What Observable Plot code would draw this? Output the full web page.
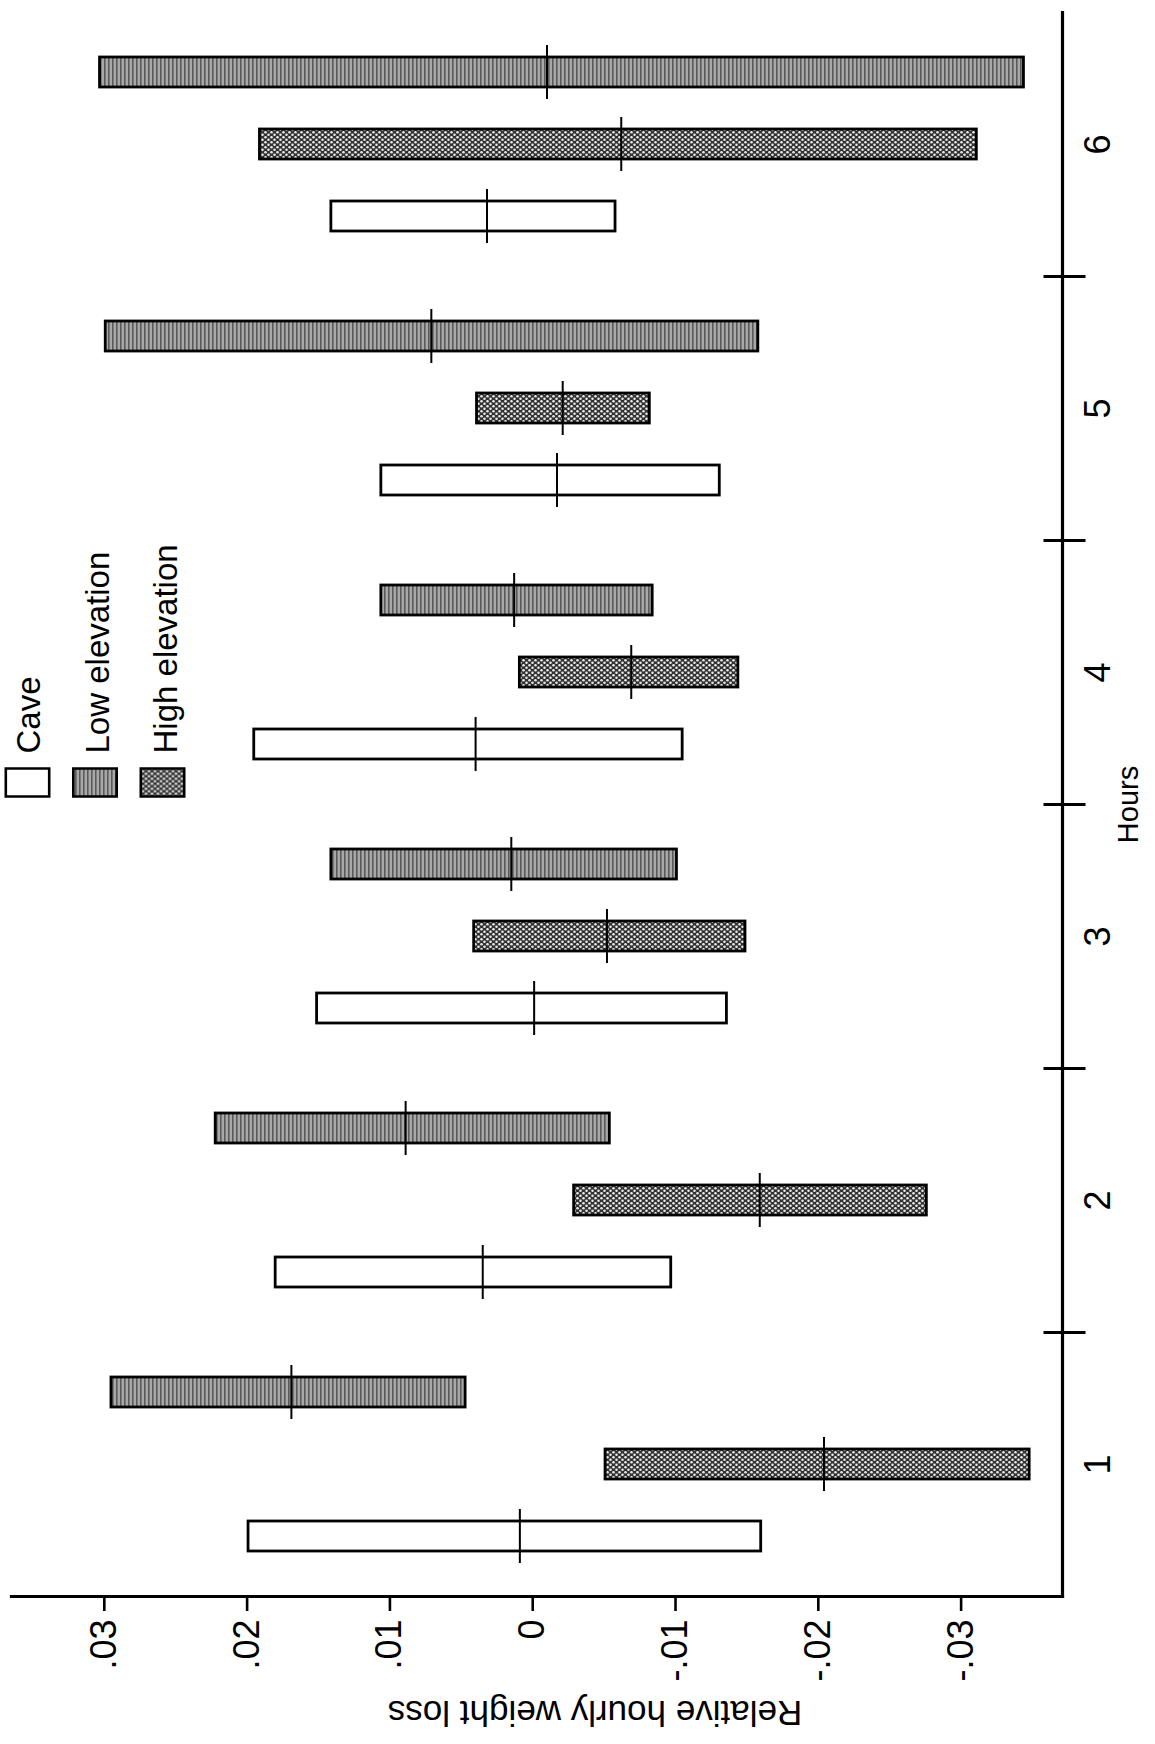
<!DOCTYPE html>
<html>
<head>
<meta charset="utf-8">
<script src="https://cdn.jsdelivr.net/npm/d3@7"></script>
<script src="https://cdn.jsdelivr.net/npm/@observablehq/plot@0.6"></script>
<style>
  html, body { margin: 0; padding: 0; background: white; }
  #chart svg { display: block; }
</style>
</head>
<body>
<div id="chart"></div>
<script>
// ---- data ----
const hours = [1, 2, 3, 4, 5, 6];
const groups = ["Cave", "Low elevation", "High elevation"];

const caveMax  = [0.0199, 0.0180, 0.0151, 0.0195, 0.0106, 0.0141];
const caveMin  = [-0.0160, -0.0097, -0.0136, -0.0105, -0.0131, -0.0058];
const caveMean = [0.0009, 0.0035, -0.0001, 0.0040, -0.0017, 0.0032];

const lowMax  = [0.0295, 0.0222, 0.0141, 0.0106, 0.0299, 0.0303];
const lowMin  = [0.0047, -0.0054, -0.0101, -0.0084, -0.0158, -0.0344];
const lowMean = [0.0169, 0.0089, 0.0015, 0.0013, 0.0071, -0.0010];

const highMax  = [-0.0051, -0.0029, 0.0041, 0.0009, 0.0039, 0.0191];
const highMin  = [-0.0348, -0.0276, -0.0149, -0.0144, -0.0082, -0.0311];
const highMean = [-0.0204, -0.0159, -0.0052, -0.0069, -0.0021, -0.0062];

const xTicks = [0.03, 0.02, 0.01, 0, -0.01, -0.02, -0.03];
const xTickLabels = [".03", ".02", ".01", "0", "-.01", "-.02", "-.03"];
const xLabel = "Relative hourly weight loss";
const hourLabel = "Hours";
const legendHour = 4;

// ---- table built from the arrays ----
const series = {
  "Cave": [caveMin, caveMax, caveMean],
  "Low elevation": [lowMin, lowMax, lowMean],
  "High elevation": [highMin, highMax, highMean]
};
const data = hours.flatMap((h, i) => groups.map(g => ({
  hour: h, group: g, min: series[g][0][i], max: series[g][1][i], mean: series[g][2][i]
})));
const hourBoundaries = hours.filter(h => h !== d3.max(hours));
const fills = ["white", "url(#lowPat)", "url(#highPat)"];
const fillOf = g => fills[groups.indexOf(g)];

// legend swatch: a rectangle
const swatch = {
  draw(ctx, size) {
    const r = Math.sqrt(size / Math.PI);
    const w = r * 3.1, h = r * 2;
    ctx.rect(-w / 2, -h / 2, w, h);
  }
};
// hour separator tick: a short horizontal stroke crossing the axis line
const crossTick = {
  draw(ctx) {
    ctx.moveTo(-19, 0);
    ctx.lineTo(23, 0);
  }
};

const plot = Plot.plot({
  width: 1155,
  height: 1744,
  marginLeft: 11,
  marginRight: 93,
  marginTop: 11,
  marginBottom: 147,
  style: {fontFamily: "'Liberation Sans', Arial, sans-serif", background: "white", color: "black"},
  x: {domain: [0.0365, -0.0371], axis: null},
  y: {domain: ["Low elevation", "High elevation", "Cave"], paddingInner: 0.58, paddingOuter: 0.615, axis: null},
  fy: {domain: hours.slice().reverse(), padding: 0, axis: null},
  color: {domain: groups, range: fills},
  marks: [
    // bars
    Plot.barX(data, {fy: "hour", y: "group", x1: "min", x2: "max", fill: "group", stroke: "black", strokeWidth: 2.8}),
    // mean marks
    Plot.tickX(data, {fy: "hour", y: "group", x: "mean", stroke: "black", strokeWidth: 2, insetTop: -12, insetBottom: -12}),
    // axis lines
    Plot.frame({anchor: "bottom", facet: "super", stroke: "black", strokeWidth: 3.2}),
    Plot.frame({anchor: "right", facet: "super", stroke: "black", strokeWidth: 3.2}),
    // value axis
    Plot.axisX({
      ticks: xTicks,
      tickFormat: d => xTickLabels[xTicks.indexOf(d)],
      tickRotate: -90, tickSize: 15, tickPadding: 8,
      textAnchor: "end", lineAnchor: "middle",
      fontSize: 36, strokeWidth: 2.6, label: null
    }),
    Plot.text([xLabel], {
      facet: "super", frameAnchor: "bottom", dy: 116, dx: 58, rotate: 180,
      lineAnchor: "middle", fontSize: 35
    }),
    // hours axis
    Plot.dot(hourBoundaries, {
      fy: d => d, frameAnchor: "top-right", symbol: crossTick, r: 10,
      fill: "none", stroke: "black", strokeWidth: 3
    }),
    Plot.text(hours, {
      fy: d => d, text: d => String(d), frameAnchor: "right", dx: 22,
      rotate: -90, textAnchor: "middle", lineAnchor: "top", fontSize: 36
    }),
    Plot.text([hourLabel], {
      facet: "super", frameAnchor: "right", dx: 55, rotate: -90,
      textAnchor: "middle", lineAnchor: "top", fontSize: 29
    }),
    // legend
    ...groups.map((g, i) => Plot.dot([g], {
      fy: () => legendHour, frameAnchor: "bottom-left",
      dx: 16 + i * 67.5, dy: -22, symbol: swatch, r: 14,
      fill: fillOf(g), stroke: "black", strokeWidth: 2.6
    })),
    ...groups.map((g, i) => Plot.text([g], {
      fy: () => legendHour, frameAnchor: "bottom-left",
      dx: 18 + i * 68.5, dy: -51, rotate: -90,
      textAnchor: "start", lineAnchor: "middle", fontSize: 33
    }))
  ]
});

const ns = "http://www.w3.org/2000/svg";
const defs = document.createElementNS(ns, "defs");
defs.innerHTML = `
  <pattern id="lowPat" patternUnits="userSpaceOnUse" width="4" height="6">
    <rect width="4" height="6" fill="#a8a8a8"></rect>
    <rect width="1.6" height="6" fill="#5a5a5a"></rect>
  </pattern>
  <pattern id="highPat" patternUnits="userSpaceOnUse" width="6" height="5">
    <rect width="6" height="5" fill="#333"></rect>
    <circle cx="1.5" cy="1.25" r="1.3" fill="#e6e6e6"></circle>
    <circle cx="4.5" cy="3.75" r="1.3" fill="#e6e6e6"></circle>
  </pattern>`;
plot.prepend(defs);
document.getElementById("chart").appendChild(plot);
</script>
</body>
</html>
